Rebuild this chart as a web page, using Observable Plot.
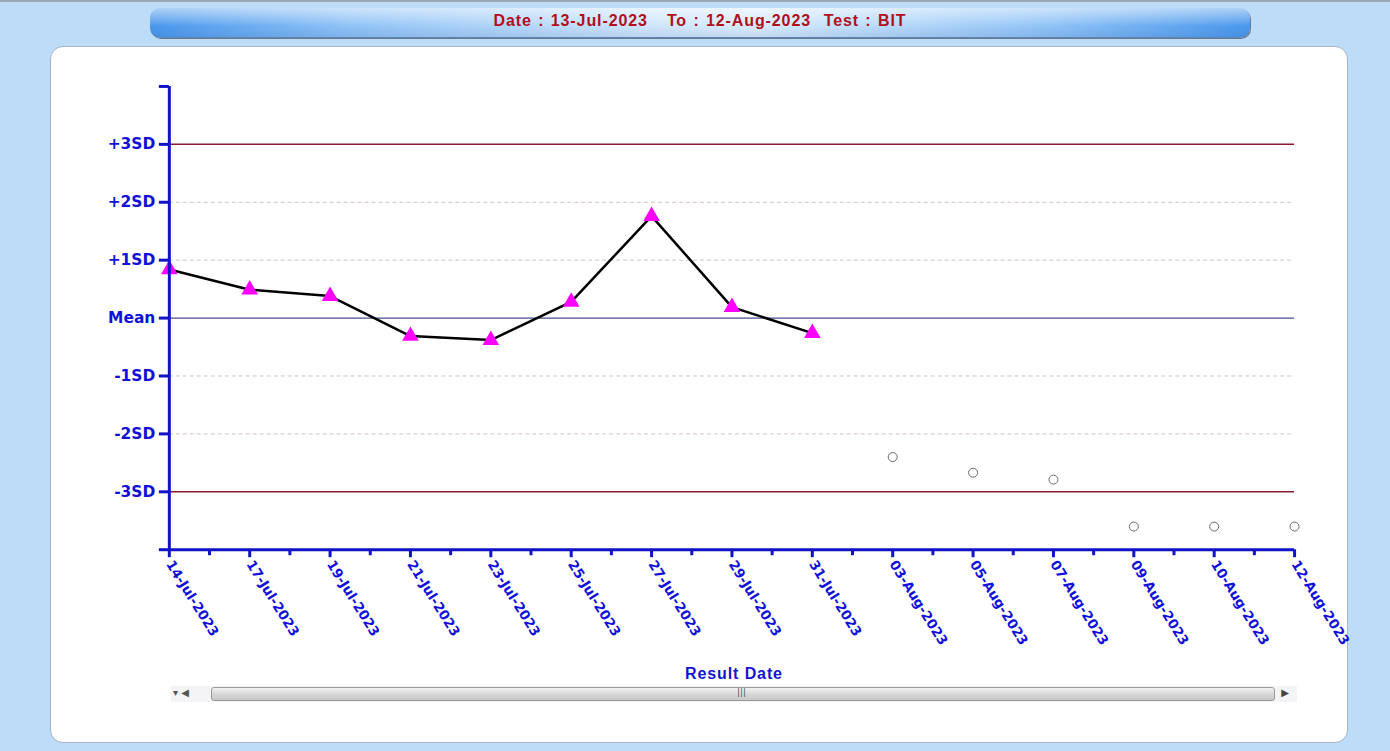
<!DOCTYPE html>
<html>
<head>
<meta charset="utf-8">
<script src="https://cdn.jsdelivr.net/npm/d3@7"></script>
<script src="https://cdn.jsdelivr.net/npm/@observablehq/plot@0.6"></script>
<style>
  html, body { margin: 0; padding: 0; }
  body { width: 1390px; height: 751px; background: #bddcf8; position: relative; overflow: hidden; font-family: "DejaVu Sans", "Liberation Sans", sans-serif; }
  #topline { position: absolute; left: 0; top: 0; width: 1390px; height: 2px; background: #9aa8b6; }
  #titlebar { position: absolute; left: 150px; top: 8px; width: 1100px; height: 30px; border-radius: 10px;
    background: linear-gradient(to bottom, rgba(255,255,255,0.55) 0%, rgba(255,255,255,0.15) 45%, rgba(0,0,0,0.0) 60%, rgba(0,40,120,0.10) 100%),
                linear-gradient(to right, #4a98ec 0%, #8fc2f6 18%, #cfe5fb 45%, #d8ebfc 55%, #8fc2f6 82%, #4a98ec 100%);
    box-shadow: 1px 1px 0 #6a7a8e, inset 0 -1px 0 #5b86b8; }
  #title { position: absolute; left: 0; right: 0; top: 4px; text-align: center; color: #b0101c; font: bold 16px "Liberation Sans", Arial, sans-serif; letter-spacing: 0.9px; word-spacing: 1px; }
  #panel { position: absolute; left: 50px; top: 46px; width: 1296px; height: 695px; background: #ffffff; border: 1px solid #a9b4c0; border-radius: 13px; }
  #chart { position: absolute; left: 0; top: 0; }
  #xlabel { position: absolute; left: 634px; top: 618px; color: #1414d2; font: bold 16px "Liberation Sans", Arial, sans-serif; letter-spacing: 0.9px; }
  #scroll { position: absolute; left: 120px; top: 639px; width: 1126px; height: 16px; background: #f4f4f6; }
  #scroll .btnL { position: absolute; left: 2px; top: 1px; font-size: 10px; color: #555; }
  #scroll .track { position: absolute; left: 40px; top: 1px; width: 1062px; height: 12px; border: 1px solid #9a9a9a; border-radius: 3px;
    background: linear-gradient(to bottom, #f2f2f2, #d6d6d6 55%, #c8c8c8); }
  #scroll .grip { position: absolute; left: 525px; top: -1px; font: 9px "DejaVu Sans"; color: #555; letter-spacing: 0px; }
  #scroll .btnR { position: absolute; right: 8px; top: 1px; font-size: 10px; color: #444; }
</style>
</head>
<body>
<div id="topline"></div>
<div id="titlebar"><div id="title">Date : 13-Jul-2023&nbsp;&nbsp; To : 12-Aug-2023&nbsp; Test : BIT</div></div>
<div id="panel">
  <div id="chart"></div>
  <div id="xlabel">Result Date</div>
  <div id="scroll">
    <span class="btnL">&#9662; &#9664;</span>
    <div class="track"><span class="grip">|||</span></div>
    <span class="btnR">&#9654;</span>
  </div>
</div>
<script>
// Category axis (result dates)
const dates = ["14-Jul-2023","17-Jul-2023","19-Jul-2023","21-Jul-2023","23-Jul-2023","25-Jul-2023","27-Jul-2023","29-Jul-2023","31-Jul-2023","03-Aug-2023","05-Aug-2023","07-Aug-2023","09-Aug-2023","10-Aug-2023","12-Aug-2023"];

// In-range results (SD units), drawn as connected triangles
const lineDates  = ["14-Jul-2023","17-Jul-2023","19-Jul-2023","21-Jul-2023","23-Jul-2023","25-Jul-2023","27-Jul-2023","29-Jul-2023","31-Jul-2023"];
const lineValues = [0.84, 0.49, 0.38, -0.31, -0.38, 0.28, 1.76, 0.19, -0.26];

// Other results (SD units), drawn as open circles
const outDates  = ["03-Aug-2023","05-Aug-2023","07-Aug-2023","09-Aug-2023","10-Aug-2023","12-Aug-2023"];
const outValues = [-2.40, -2.67, -2.79, -3.60, -3.60, -3.60];

// Y ticks
const sdTicks  = [-4, -3, -2, -1, 0, 1, 2, 3, 4];
const sdLabels = ["", "-3SD", "-2SD", "-1SD", "Mean", "+1SD", "+2SD", "+3SD", ""];
const dashedLevels = [-2, -1, 1, 2];
const limitLevels = [-3, 3];
const meanLevel = [0];

const lineData = lineDates.map((d, i) => ({date: d, v: lineValues[i]}));
const outData = outDates.map((d, i) => ({date: d, v: outValues[i]}));
const xi = d => dates.indexOf(d.date);
const blue = "#1212c8";
const textBlue = "#1010d8";

const chart = Plot.plot({
  width: 1298,
  height: 630,
  marginLeft: 118,
  marginRight: 53,
  marginTop: 39,
  marginBottom: 127,
  style: {background: "transparent", overflow: "visible", fontFamily: "'DejaVu Sans', sans-serif"},
  x: {type: "linear", domain: [0, dates.length - 1]},
  y: {domain: [-4, 4]},
  marks: [
    Plot.ruleY(dashedLevels, {stroke: "#d2c2c4", strokeWidth: 1, strokeDasharray: "4,3"}),
    Plot.ruleY(limitLevels, {stroke: "#8a1a2c", strokeWidth: 1.5}),
    Plot.ruleY(meanLevel, {stroke: "#4c4c8c", strokeWidth: 1.2}),
    Plot.line(lineData, {x: xi, y: "v", stroke: "#000000", strokeWidth: 2.5}),
    Plot.dot(lineData, {x: xi, y: "v", symbol: "triangle", r: 6.2, fill: "#ff00ff", stroke: "none"}),
    Plot.dot(outData, {x: xi, y: "v", r: 4.5, fill: "white", stroke: "#6a6a6a", strokeWidth: 1}),
    Plot.axisY({
      ticks: sdTicks,
      tickFormat: d => sdLabels[sdTicks.indexOf(d)],
      tickSize: 10, tickPadding: 4, strokeWidth: 3, stroke: blue, fill: textBlue,
      fontSize: 15.5, fontWeight: "bold", label: null
    }),
    Plot.axisX({
      ticks: d3.range(0.5, dates.length - 1, 1),
      tickFormat: () => "",
      tickSize: 6, strokeWidth: 3, stroke: blue, label: null
    }),
    Plot.axisX({
      ticks: d3.range(0, dates.length, 1),
      tickFormat: i => dates[i],
      tickSize: 8, tickPadding: 4, tickRotate: 58, textAnchor: "start",
      strokeWidth: 3, stroke: blue, fill: textBlue,
      fontSize: 13.5, fontWeight: "bold", label: null
    }),
    Plot.ruleX([0], {stroke: blue, strokeWidth: 3}),
    Plot.ruleY([-4], {stroke: blue, strokeWidth: 3})
  ]
});
document.getElementById("chart").appendChild(chart);
</script>
</body>
</html>
